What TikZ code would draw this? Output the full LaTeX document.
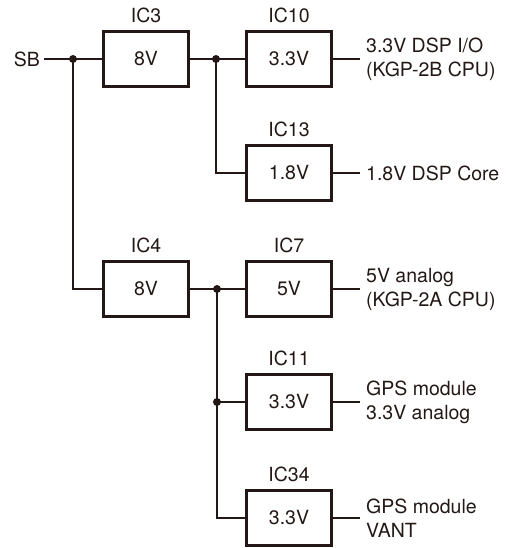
\documentclass[tikz,border=0pt]{standalone}
\usepackage{fontspec}
\setmainfont{TeX Gyre Heros}
\usetikzlibrary{positioning}
\definecolor{inkBlack}{RGB}{35,24,21}

\tikzset{
  regbox/.style={draw=inkBlack, line width=3pt, minimum width=85pt, minimum height=55pt,
    inner sep=0pt, text=inkBlack},
  chiplabel/.style={inner sep=0pt, text=inkBlack},
  wire/.style={draw=inkBlack, line width=1.3pt},
  outtext/.style={anchor=west, align=left, inner sep=0pt, inner xsep=6pt, text=inkBlack}
}

\begin{document}
\begin{tikzpicture}[x=1pt, y=1pt, font=\fontsize{19.5}{24}\selectfont]
  \useasboundingbox (0,0) rectangle (509,-548);

  % regulators
  \node[regbox] (ic3)  at (146,-59)  {8V};
  \node[regbox] (ic10) at (289,-59)  {3.3V};
  \node[regbox] (ic13) at (289,-173) {1.8V};
  \node[regbox] (ic4)  at (146,-289) {8V};
  \node[regbox] (ic7)  at (289,-289) {5V};
  \node[regbox] (ic11) at (289,-402) {3.3V};
  \node[regbox] (ic34) at (289,-518) {3.3V};
  \foreach \ic in {3,10,13,4,7,11,34}
    \node[chiplabel, above=7pt of ic\ic] (l\ic) {IC\ic};

  % input and outputs
  \node[text=inkBlack, anchor=east, inner sep=0pt, inner xsep=4pt] (sb) at (44,-59) {SB};
  \node[outtext] (t10) at (360,-59)  {3.3V DSP I/O\\(KGP-2B CPU)};
  \node[outtext] (t13) at (360,-173) {1.8V DSP Core};
  \node[outtext] (t7)  at (360,-289) {5V analog\\(KGP-2A CPU)};
  \node[outtext] (t11) at (360,-402) {GPS module\\3.3V analog};
  \node[outtext] (t34) at (360,-518) {GPS module\\VANT};

  % junctions
  \coordinate (j1) at (73,-59);
  \coordinate (j2) at (216,-59);
  \coordinate (j3) at (217,-289);
  \coordinate (j4) at (217,-402);

  \draw[wire] (sb.east) -- (j1) -- (ic3.west);
  \draw[wire] (j1) |- (ic4.west);
  \draw[wire] (ic3.east) -- (j2) -- (ic10.west);
  \draw[wire] (j2) |- (ic13.west);
  \draw[wire] (ic4.east) -- (j3) -- (ic7.west);
  \draw[wire] (j3) -- (j4) -- (ic11.west);
  \draw[wire] (j4) |- (ic34.west);
  \foreach \ic in {10,13,7,11,34}
    \draw[wire] (ic\ic.east) -- (t\ic.west);

  \foreach \j in {j1,j2,j3,j4}
    \fill[inkBlack] (\j) circle (4pt);
\end{tikzpicture}
\end{document}
